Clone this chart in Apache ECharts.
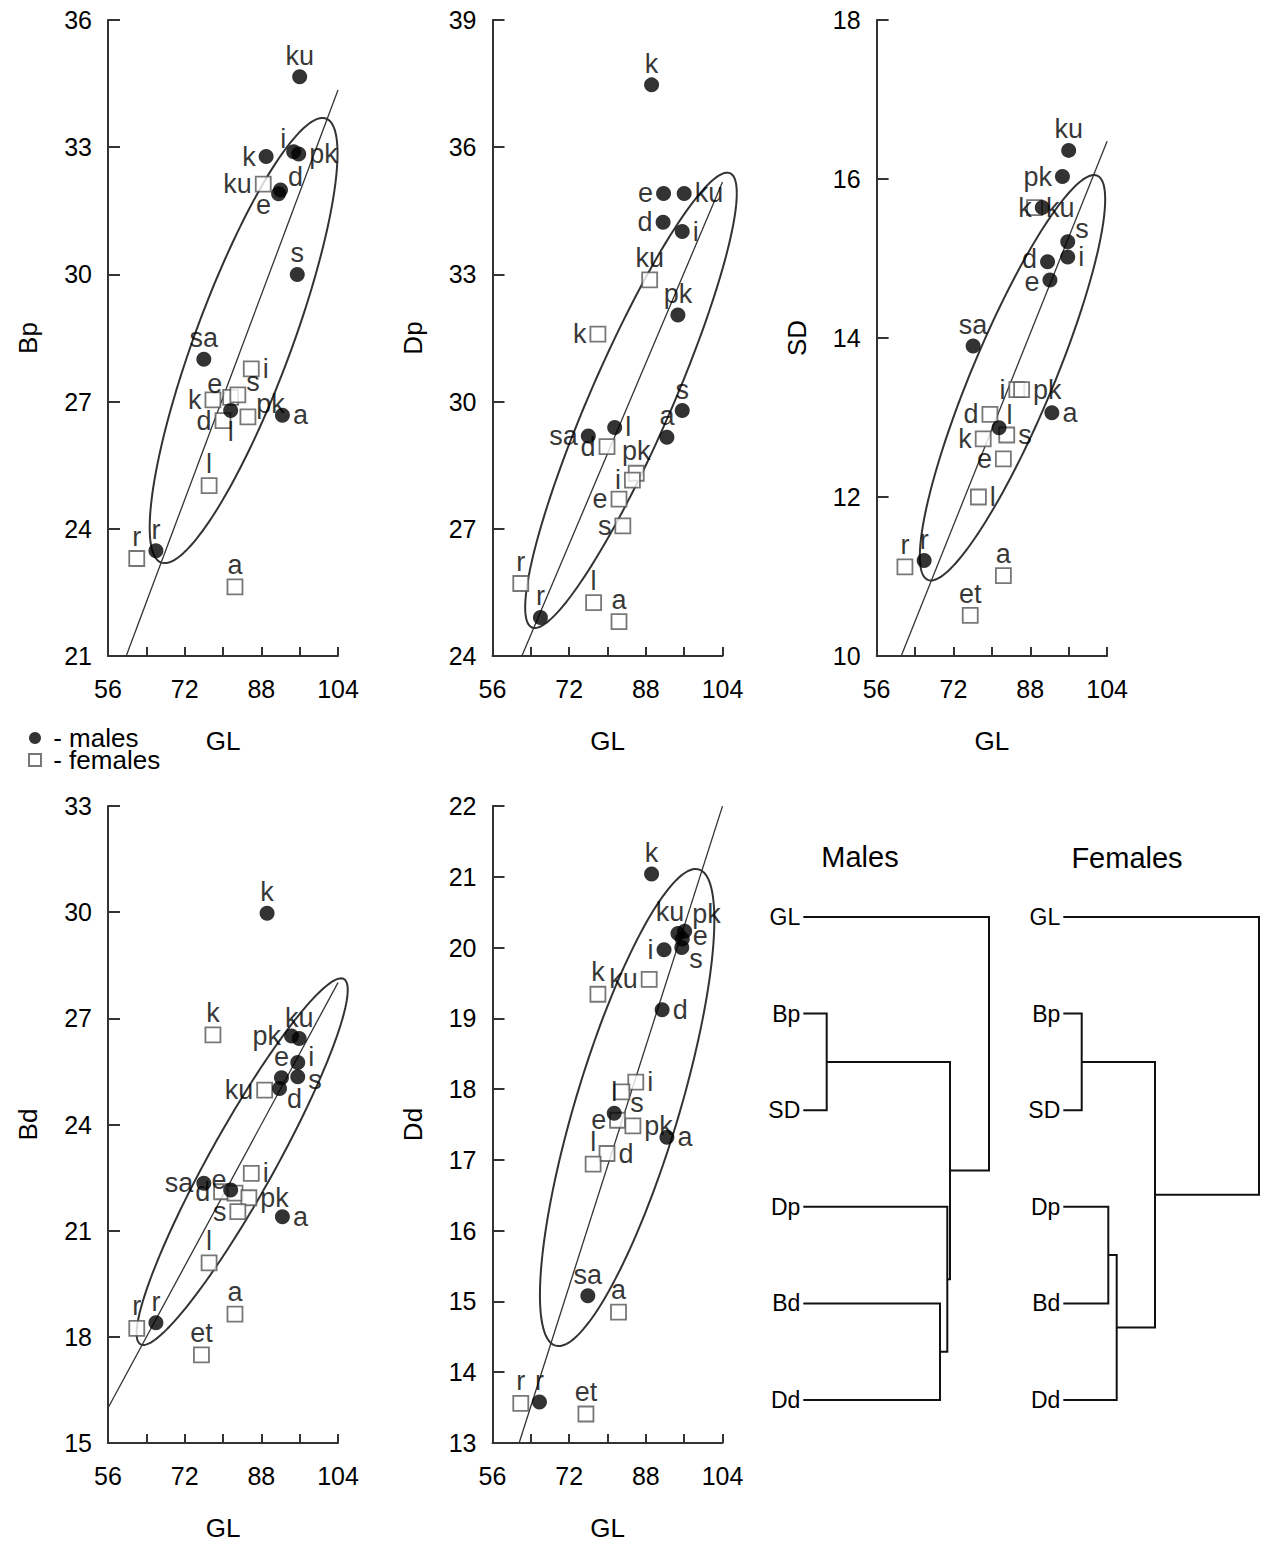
<!DOCTYPE html>
<html><head><meta charset="utf-8">
<script src="https://cdn.jsdelivr.net/npm/echarts@6/dist/echarts.min.js"></script>
<style>html,body{margin:0;padding:0;background:#fff}#c{width:1267px;height:1544px}</style>
</head><body><div id="c"></div>
<script>
const FONT = '"Liberation Sans", Arial, Helvetica, sans-serif';

// shared x axis (GL)
const glMin = 56, glMax = 104, glStep = 8;

// ---------- Bp vs GL ----------
const bpMales = [['ku',96.0,34.66],['i',94.75,32.89],['pk',95.8,32.84],['k',89.0,32.78],['d',92.0,31.99],['e',91.6,31.90],['s',95.5,30.0],['sa',76.0,28.0],['l',81.6,26.79],['a',92.4,26.68],['r',66.0,23.48]];
const bpFemales = [['ku',88.4,32.13],['i',85.9,27.77],['k',77.9,27.04],['e',81.6,27.10],['s',83.1,27.16],['pk',85.2,26.64],['d',80.0,26.55],['l',77.1,25.02],['r',62.0,23.30],['a',82.5,22.63]];
const bpEllipse = [84.3, 28.44, 19.6, 5.25, 0.84];   // centre x, centre y, half-range x, half-range y, r
const bpLine = [84.3, 28.40, 0.302];                 // point x, point y, slope

// ---------- Dp vs GL ----------
const dpMales = [['k',89.2,37.47],['e',91.7,34.91],['ku',96.0,34.91],['d',91.6,34.23],['i',95.6,34.01],['pk',94.7,32.04],['s',95.6,29.79],['a',92.4,29.16],['l',81.5,29.39],['sa',76.0,29.19],['r',66.0,24.91]];
const dpFemales = [['ku',88.8,32.87],['k',78.0,31.59],['d',79.9,28.94],['pk',86.0,28.31],['i',85.2,28.15],['e',82.4,27.70],['s',83.2,27.07],['r',61.9,25.71],['l',77.1,25.26],['a',82.4,24.81]];
const dpEllipse = [84.9, 30.03, 22.08, 5.37, 0.909];
const dpLine = [84.9, 30.08, 0.267];

// ---------- SD vs GL ----------
const sdMales = [['ku',96.0,16.36],['pk',94.7,16.03],['k',90.5,15.64],['s',95.8,15.21],['i',95.8,15.02],['d',91.6,14.96],['e',92.1,14.73],['sa',76.1,13.90],['l',81.5,12.87],['a',92.5,13.06],['r',65.9,11.20]];
const sdFemales = [['ku',88.9,15.64],['i',85.2,13.35],['pk',86.2,13.35],['d',79.6,13.04],['s',83.1,12.78],['k',78.2,12.73],['e',82.4,12.48],['l',77.2,12.00],['r',61.9,11.12],['a',82.4,11.01],['et',75.5,10.51]];
const sdEllipse = [84.3, 13.5, 19.3, 2.55, 0.88];
const sdLine = [84.3, 13.5, 0.151];

// ---------- Bd vs GL ----------
const bdMales = [['k',89.2,29.97],['pk',94.3,26.50],['ku',95.9,26.43],['i',95.6,25.75],['s',95.6,25.35],['e',92.2,25.32],['d',91.8,25.02],['sa',76.0,22.34],['l',81.6,22.15],['a',92.4,21.39],['r',66.0,18.40]];
const bdFemales = [['k',77.9,26.53],['ku',88.7,24.97],['i',85.9,22.62],['d',79.7,22.10],['e',82.5,22.06],['pk',85.4,21.93],['s',83.1,21.54],['l',77.1,20.09],['a',82.5,18.64],['r',62.0,18.24],['et',75.5,17.49]];
const bdEllipse = [84.0, 22.95, 22.03, 5.18, 0.936];
const bdLine = [84.0, 23.0, 0.2504];

// ---------- Dd vs GL ----------
const ddMales = [['k',89.2,21.04],['ku',94.7,20.20],['pk',96.1,20.23],['e',95.6,20.12],['i',91.8,19.97],['s',95.5,20.00],['d',91.4,19.12],['l',81.4,17.66],['a',92.4,17.32],['sa',75.9,15.08],['r',65.8,13.58]];
const ddFemales = [['k',78.0,19.34],['ku',88.7,19.55],['i',85.9,18.10],['s',83.0,17.96],['e',82.1,17.56],['pk',85.3,17.48],['d',79.9,17.09],['l',77.0,16.94],['a',82.3,14.85],['r',61.9,13.56],['et',75.5,13.41]];
const ddEllipse = [84.1, 17.74, 18.2, 3.37, 0.786];
const ddLine = [84.1, 17.78, 0.212];

// label placement (layout only): code or [code, dx, dy]
const bpMalePos = {ku:'t',i:'tl',pk:'r',k:'l',d:'tr',e:'bl',s:'t',sa:'t',l:'b',a:'r',r:'t'};
const bpFemalePos = {ku:'l',i:'r',k:'l',e:'tl',s:'tr',pk:'tr',d:'l',l:'t',r:'t',a:'t'};
const dpMalePos = {k:'t',e:'l',ku:'r',d:'l',i:'r',pk:'t',s:'t',a:'t',l:'r',sa:'l',r:'t'};
const dpFemalePos = {ku:'t',k:'l',d:'l',pk:'t',i:'l',e:'l',s:'l',r:'t',l:'t',a:'t'};
const sdMalePos = {ku:'t',pk:'l',k:'l',s:'tr',i:'r',d:['l',0,-3],e:['l',0,2],sa:'t',l:'tr',a:'r',r:'t'};
const sdFemalePos = {ku:'r',i:'l',pk:'r',d:'l',s:'r',k:'l',e:'l',l:'r',r:'t',a:'t',et:'t'};
const bdMalePos = {k:'t',pk:'l',ku:'t',i:['r',0,-6],s:['r',0,3],e:'t',d:'br',sa:'l',l:'none',a:'r',r:'t'};
const bdFemalePos = {k:'t',ku:'l',i:'r',d:'l',e:'tl',pk:'r',s:'l',l:'t',a:'t',r:'t',et:'t'};
const ddMalePos = {k:'t',ku:['t',-8,0],pk:['tr',0,-4],e:['r',0,-3],i:'l',s:'br',d:'r',l:'t',a:'r',sa:'t',r:'t'};
const ddFemalePos = {k:'t',ku:'l',i:'r',s:'br',e:'l',pk:'r',d:'r',l:'t',a:'t',r:'t',et:'t'};

// ---------- dendrograms ----------
const leaves = ['GL','Bp','SD','Dp','Bd','Dd'];
// [child a, child b, linkage height]; new clusters numbered 6,7,...
const maleMerges = [[1,2,23.4],[4,5,136.7],[3,7,144],[6,8,146.7],[0,9,185.7]];
const femaleMerges = [[1,2,18.4],[3,4,45],[7,5,53.4],[6,8,91.7],[0,9,195.7]];

const panels = [
  {name:'Bp', yMin:21, yMax:36, yStep:3, males:bpMales, females:bpFemales, mp:bpMalePos, fp:bpFemalePos, ell:bpEllipse, line:bpLine},
  {name:'Dp', yMin:24, yMax:39, yStep:3, males:dpMales, females:dpFemales, mp:dpMalePos, fp:dpFemalePos, ell:dpEllipse, line:dpLine},
  {name:'SD', yMin:10, yMax:18, yStep:2, males:sdMales, females:sdFemales, mp:sdMalePos, fp:sdFemalePos, ell:sdEllipse, line:sdLine},
  {name:'Bd', yMin:15, yMax:33, yStep:3, males:bdMales, females:bdFemales, mp:bdMalePos, fp:bdFemalePos, ell:bdEllipse, line:bdLine},
  {name:'Dd', yMin:13, yMax:22, yStep:1, males:ddMales, females:ddFemales, mp:ddMalePos, fp:ddFemalePos, ell:ddEllipse, line:ddLine}
];
const gridBoxes = [
  {left:108, top:20, width:230, height:636},
  {left:492.5, top:20, width:230, height:636},
  {left:876.6, top:20, width:230.5, height:636},
  {left:108, top:806, width:230, height:637},
  {left:492.5, top:806, width:230, height:637},
  {left:803.3, top:917, width:200, height:483},
  {left:1063.3, top:917, width:200, height:483}
];

function labelFor(spec){
  let code = spec, dx = 0, dy = 0;
  if (Array.isArray(spec)) { code = spec[0]; dx = spec[1]; dy = spec[2]; }
  let o;
  switch(code){
    case 't': o = {position:'top', distance:0, offset:[0,0]}; break;
    case 'b': o = {position:'bottom', distance:0, offset:[0,0]}; break;
    case 'l': o = {position:'left', distance:3, offset:[0,0]}; break;
    case 'r': o = {position:'right', distance:3, offset:[0,0]}; break;
    case 'tl': o = {position:'left', distance:0, offset:[0,-13]}; break;
    case 'tr': o = {position:'right', distance:0, offset:[0,-13]}; break;
    case 'bl': o = {position:'left', distance:0, offset:[0,11]}; break;
    case 'br': o = {position:'right', distance:0, offset:[0,11]}; break;
    default: return {show:false};
  }
  o.offset = [o.offset[0]+dx, o.offset[1]+dy];
  return o;
}
function linePoints(l, yMin, yMax){
  const [x0,y0,m] = l;
  const xs = Math.max(glMin, x0+(yMin-y0)/m), xe = Math.min(glMax, x0+(yMax-y0)/m);
  return [[xs, y0+m*(xs-x0)],[xe, y0+m*(xe-x0)]];
}
function renderEllipse(params, api){
  const cx=api.value(0), cy=api.value(1), ax=api.value(2), ay=api.value(3), r=api.value(4);
  const s=Math.sqrt(1-r*r), pts=[];
  for(let i=0;i<=180;i++){const t=2*Math.PI*i/180; pts.push(api.coord([cx+ax*Math.cos(t), cy+ay*(r*Math.cos(t)+s*Math.sin(t))]));}
  return {type:'polyline', shape:{points:pts}, style:{stroke:'#333', lineWidth:2, fill:null}};
}

const grids=[], xAxes=[], yAxes=[], series=[];
gridBoxes.forEach(g=>grids.push(Object.assign({containLabel:false}, g)));
const axisCol = '#333';
panels.forEach((p,i)=>{
  xAxes.push({gridIndex:i, type:'value', min:glMin, max:glMax, interval:glStep,
    name:'GL', nameLocation:'middle', nameGap:72, nameTextStyle:{fontSize:26, color:'#000', fontFamily:FONT},
    axisLine:{lineStyle:{color:axisCol, width:2}}, axisTick:{inside:true, length:9, lineStyle:{color:axisCol, width:2}},
    axisLabel:{fontSize:25, color:'#000', fontFamily:FONT, margin:20, formatter:v=>((v-glMin)%16===0?String(v):'')},
    splitLine:{show:false}});
  yAxes.push({gridIndex:i, type:'value', min:p.yMin, max:p.yMax, interval:p.yStep,
    name:p.name, nameLocation:'middle', nameRotate:90, nameGap:67, nameTextStyle:{fontSize:26, color:'#000', fontFamily:FONT},
    axisLine:{show:true, lineStyle:{color:axisCol, width:2}}, axisTick:{show:true, inside:true, length:12, lineStyle:{color:axisCol, width:2}},
    axisLabel:{fontSize:25, color:'#000', fontFamily:FONT, margin:16},
    splitLine:{show:false}});
  series.push({type:'custom', xAxisIndex:i, yAxisIndex:i, clip:false, silent:true, z:2,
    data:[p.ell], renderItem:renderEllipse});
  series.push({type:'line', xAxisIndex:i, yAxisIndex:i, data:linePoints(p.line,p.yMin,p.yMax), showSymbol:false, symbol:'none', clip:false,
    lineStyle:{color:'#333', width:1.3}, silent:true, z:2});
  series.push({type:'scatter', name:'females', xAxisIndex:i, yAxisIndex:i, symbol:'rect', symbolSize:15, clip:false,
    itemStyle:{color:'#fff', borderColor:'#555', borderWidth:1.8},
    label:{show:true, formatter:q=>q.name, fontSize:27, color:'#000', fontFamily:FONT},
    data:p.females.map(r=>({name:r[0], value:[r[1],r[2]], label:labelFor(p.fp[r[0]])})), z:3});
  series.push({type:'scatter', name:'males', xAxisIndex:i, yAxisIndex:i, symbol:'circle', symbolSize:15, clip:false,
    itemStyle:{color:'#000'},
    label:{show:true, formatter:q=>q.name, fontSize:27, color:'#000', fontFamily:FONT},
    data:p.males.map(r=>({name:r[0], value:[r[1],r[2]], label:labelFor(p.mp[r[0]])})), z:4});
});

function dendroLines(merges){
  const pos = leaves.map((_,k)=>[0,k]);
  const out=[];
  merges.forEach(([a,b,h])=>{
    const A=pos[a], B=pos[b];
    out.push({coords:[[A[0],A[1]],[h,A[1]],[h,B[1]],[B[0],B[1]]]});
    pos.push([h,(A[1]+B[1])/2]);
  });
  return out;
}
[maleMerges, femaleMerges].forEach((m,j)=>{
  const gi = 5+j;
  xAxes.push({gridIndex:gi, type:'value', min:0, max:200, show:false});
  yAxes.push({gridIndex:gi, type:'value', min:0, max:5, interval:1, inverse:true,
    axisLine:{show:false}, axisTick:{show:false}, splitLine:{show:false},
    axisLabel:{fontSize:23, color:'#000', fontFamily:FONT, margin:3, formatter:v=>leaves[v]}});
  series.push({type:'lines', coordinateSystem:'cartesian2d', xAxisIndex:gi, yAxisIndex:gi, polyline:true,
    lineStyle:{color:'#111', width:2, opacity:1}, data:dendroLines(m), silent:true});
});

const chart = echarts.init(document.getElementById('c'), null, {renderer:'svg'});
chart.setOption({
  animation:false,
  backgroundColor:'#fff',
  textStyle:{fontFamily:FONT},
  grid:grids, xAxis:xAxes, yAxis:yAxes, series:series,
  legend:{data:['males','females'], orient:'vertical', left:23, top:720, itemGap:-4, itemWidth:12, itemHeight:12,
    formatter:n=>'\u00a0- '+n, textStyle:{fontSize:26, lineHeight:22, color:'#000', fontFamily:FONT}, selectedMode:false},
  graphic:[
    {type:'text', x:860, y:857, style:{text:'Males', fontSize:29, fontFamily:FONT, fill:'#000', align:'center', verticalAlign:'middle'}},
    {type:'text', x:1127, y:858, style:{text:'Females', fontSize:29, fontFamily:FONT, fill:'#000', align:'center', verticalAlign:'middle'}}
  ]
});
</script></body></html>
